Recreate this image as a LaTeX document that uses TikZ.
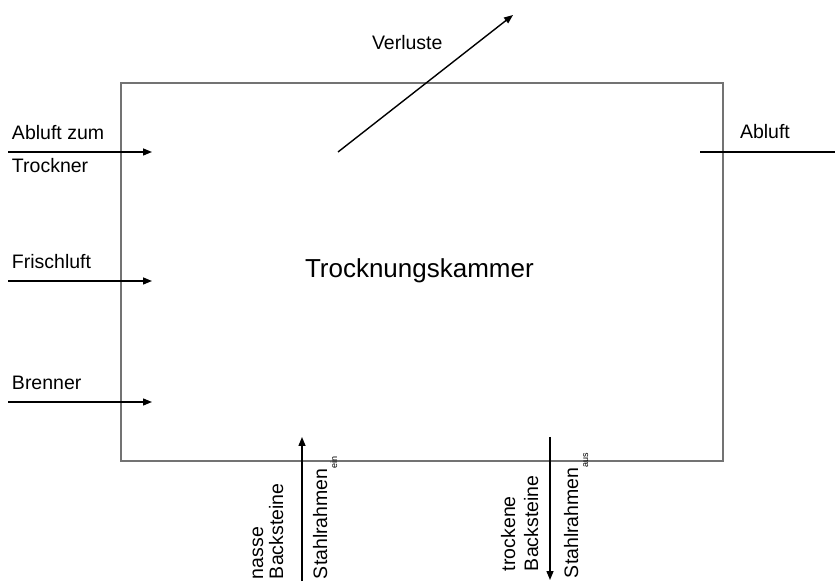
\documentclass[tikz,border=0pt]{standalone}
\usepackage{fontspec}
\setmainfont{Liberation Sans}
\usetikzlibrary{arrows.meta}
\tikzset{
  lbl/.style={inner sep=0pt, outer sep=0pt, anchor=base west, font=\fontsize{19.5}{22}\selectfont},
  vlbl/.style={lbl, rotate=90},
  flow/.style={line width=1.4pt, -{Triangle[length=9pt,width=7pt]}},
  flowplain/.style={line width=1.4pt},
  chamber/.style={draw=black!55, line width=1.3pt}
}
\newcommand{\sbs}[1]{\raisebox{-10pt}{\fontsize{9}{9}\selectfont #1}}
\begin{document}
\begin{tikzpicture}[x=1pt,y=1pt]
\useasboundingbox (0,0) rectangle (835,581);
% chamber
\draw[chamber] (121,120) rectangle (723,498);
\node[lbl, font=\fontsize{26}{30}\selectfont] (title) at (305,303) {Trocknungskammer};
% left inputs
\coordinate (a1s) at (8,429); \coordinate (a1e) at (152,429);
\coordinate (a2s) at (8,300); \coordinate (a2e) at (152,300);
\coordinate (a3s) at (8,179); \coordinate (a3e) at (152,179);
\draw[flow] (a1s) -- (a1e);
\draw[flow] (a2s) -- (a2e);
\draw[flow] (a3s) -- (a3e);
\node[lbl] (t1) at (12,441) {Abluft zum};
\node[lbl] (t1b) at (12,408) {Trockner};
\node[lbl] (t2) at (12,312) {Frischluft};
\node[lbl] (t3) at (12,191) {Brenner};
% right output
\coordinate (r1s) at (700,429); \coordinate (r1e) at (835,429);
\draw[flowplain] (r1s) -- (r1e);
\node[lbl] (t4) at (740,442) {Abluft};
% losses
\coordinate (vs) at (338,429); \coordinate (ve) at (513,566);
\draw[flow] (vs) -- (ve);
\node[lbl] (t5) at (372,531) {Verluste};
% bottom in
\coordinate (bis) at (302,0); \coordinate (bie) at (302,144);
\draw[flow] (bis) -- (bie);
\node[vlbl] (b1) at (263,2) {nasse};
\node[vlbl] (b2) at (283,2) {Backsteine};
\node[vlbl] (b3) at (327,2) {Stahlrahmen\sbs{ein}};
% bottom out
\coordinate (bos) at (550,144); \coordinate (boe) at (550,1);
\draw[flow] (bos) -- (boe);
\node[vlbl] (c1) at (515,10) {trockene};
\node[vlbl] (c2) at (538,10) {Backsteine};
\node[vlbl] (c3) at (578,3) {Stahlrahmen\sbs{aus}};
\end{tikzpicture}
\end{document}
